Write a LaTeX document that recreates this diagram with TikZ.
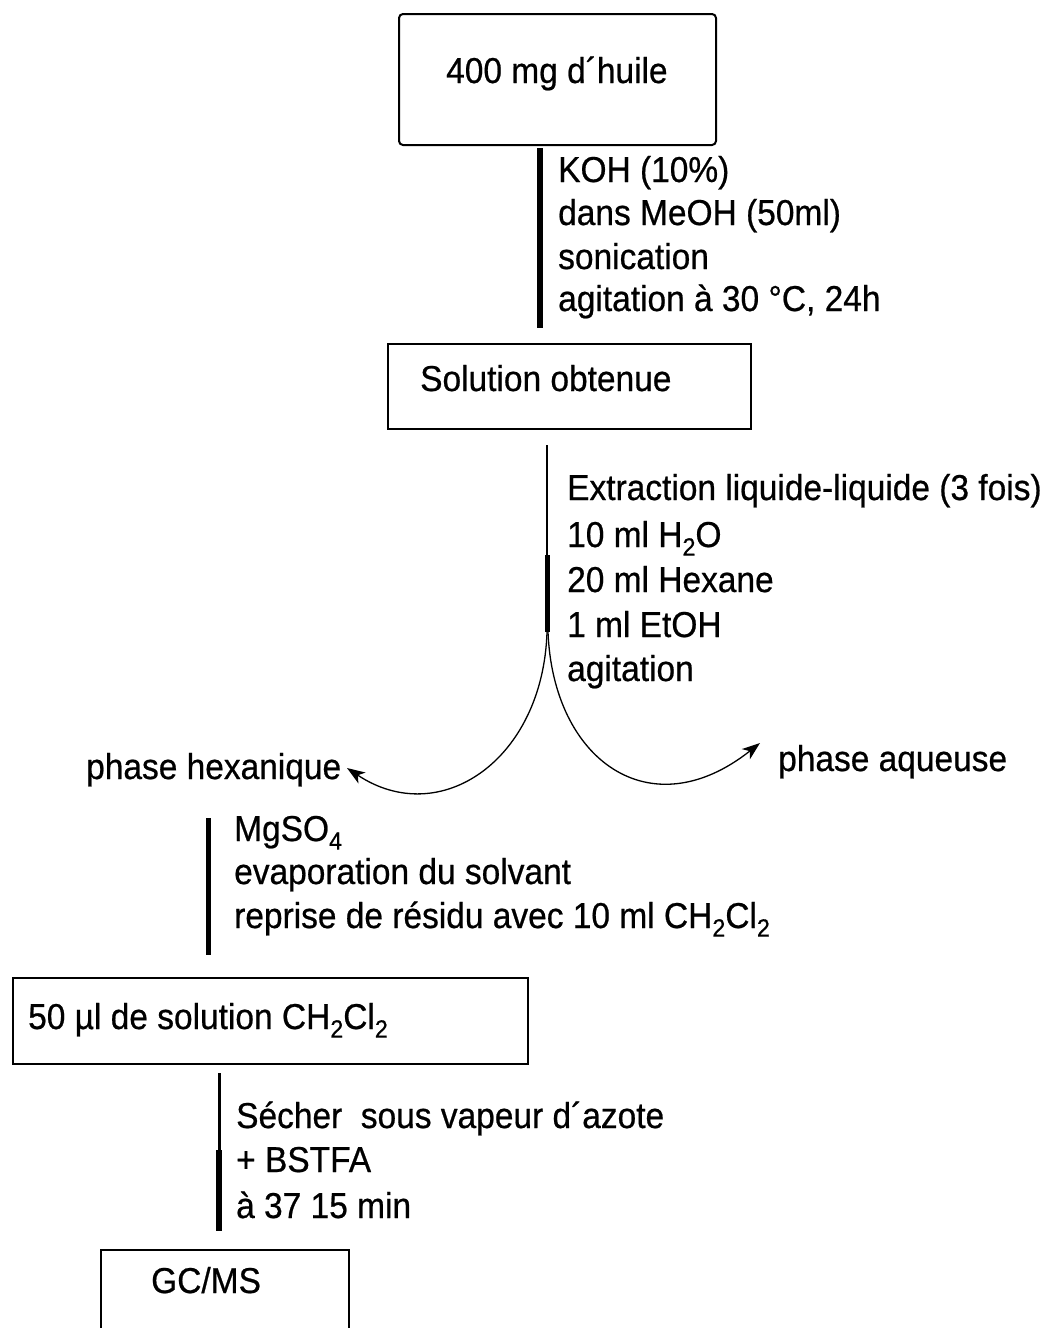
\documentclass[tikz,border=0pt]{standalone}
\usepackage{fontspec}
\setmainfont[FakeStretch=0.93,FakeBold=0.6]{Liberation Sans}
\usetikzlibrary{arrows.meta}
\newcommand{\sbs}[1]{\raisebox{-0.24em}{\fontsize{25}{25}\selectfont #1}}
\begin{document}
\begin{tikzpicture}[x=1pt,y=-1pt,
  font=\fontsize{36}{44}\selectfont,
  box/.style={draw, line width=2pt, inner sep=0pt, anchor=north west},
  txt/.style={anchor=base west, inner sep=0pt},
  conn/.style={line width=6pt},
  thinconn/.style={line width=2.5pt},
  branch/.style={line width=1.3pt, -{Stealth[length=18pt,width=13pt,inset=5pt]}}]
\useasboundingbox (0,0) rectangle (1044,1328);
\clip (0,0) rectangle (1044,1328);

% boxes
\node[box, rounded corners=4pt, minimum width=317pt, minimum height=131pt] (b1) at (398,13) {};
\node[box, minimum width=363pt, minimum height=85pt] (b2) at (387,343) {};
\node[box, minimum width=515pt, minimum height=86pt] (b3) at (12,977) {};
\node[box, minimum width=248pt, minimum height=120pt] (b4) at (100,1249) {};

% box texts
\node[txt] (t1) at (446,83) {400 mg d´huile};
\node[txt] (t2) at (420,391) {Solution obtenue};
\node[txt] (t3) at (28,1029) {50 µl de solution CH\sbs{2}Cl\sbs{2}};
\node[txt] (t4) at (151,1293) {GC/MS};

% step 1
\coordinate (l1a) at (540,148);
\coordinate (l1b) at (540,328);
\draw[conn] (l1a) -- (l1b);
\node[txt] (k1) at (558,182) {KOH (10\%)};
\node[txt] (k2) at (558,225) {dans MeOH (50ml)};
\node[txt] (k3) at (558,269) {sonication};
\node[txt] (k4) at (558,311) {agitation à 30 °C, 24h};

% step 2
\coordinate (l2a) at (547,445);
\coordinate (l2m) at (547,555);
\coordinate (l2b) at (547,632);
\draw[thinconn] (l2a) -- (l2b);
\draw[line width=5pt] (l2m) -- (l2b);
\node[txt] (e1) at (567,500) {Extraction liquide-liquide (3 fois)};
\node[txt] (e2) at (567,547) {10 ml H\sbs{2}O};
\node[txt] (e3) at (567,592) {20 ml Hexane};
\node[txt] (e4) at (567,637) {1 ml EtOH};
\node[txt] (e5) at (567,681) {agitation};

% branches
\coordinate (hexTip) at (347,768);
\coordinate (aqTip) at (760,743);
\draw[branch] (l2b) .. controls (543,760) and (440,830) .. (hexTip);
\draw[branch] ([xshift=1pt]l2b) .. controls (553,760) and (650,830) .. (aqTip);
\node[txt] (hex) at (86,779) {phase hexanique};
\node[txt] (aq) at (778,771) {phase aqueuse};

% step 3
\coordinate (l3a) at (208,818);
\coordinate (l3b) at (208,955);
\draw[line width=5pt] (l3a) -- (l3b);
\node[txt] (m1) at (234,841) {MgSO\sbs{4}};
\node[txt] (m2) at (234,884) {evaporation du solvant};
\node[txt] (m3) at (234,928) {reprise de résidu avec 10 ml CH\sbs{2}Cl\sbs{2}};

% step 4
\coordinate (l4a) at (219,1073);
\coordinate (l4m) at (219,1150);
\coordinate (l4b) at (219,1231);
\draw[line width=3pt] (l4a) -- (l4b);
\draw[line width=6pt] (l4m) -- (l4b);
\node[txt] (s1) at (236,1128) {Sécher\ \ sous vapeur d´azote};
\node[txt] (s2) at (236,1172) {+ BSTFA};
\node[txt] (s3) at (236,1218) {à 37 15 min};
\end{tikzpicture}
\end{document}
